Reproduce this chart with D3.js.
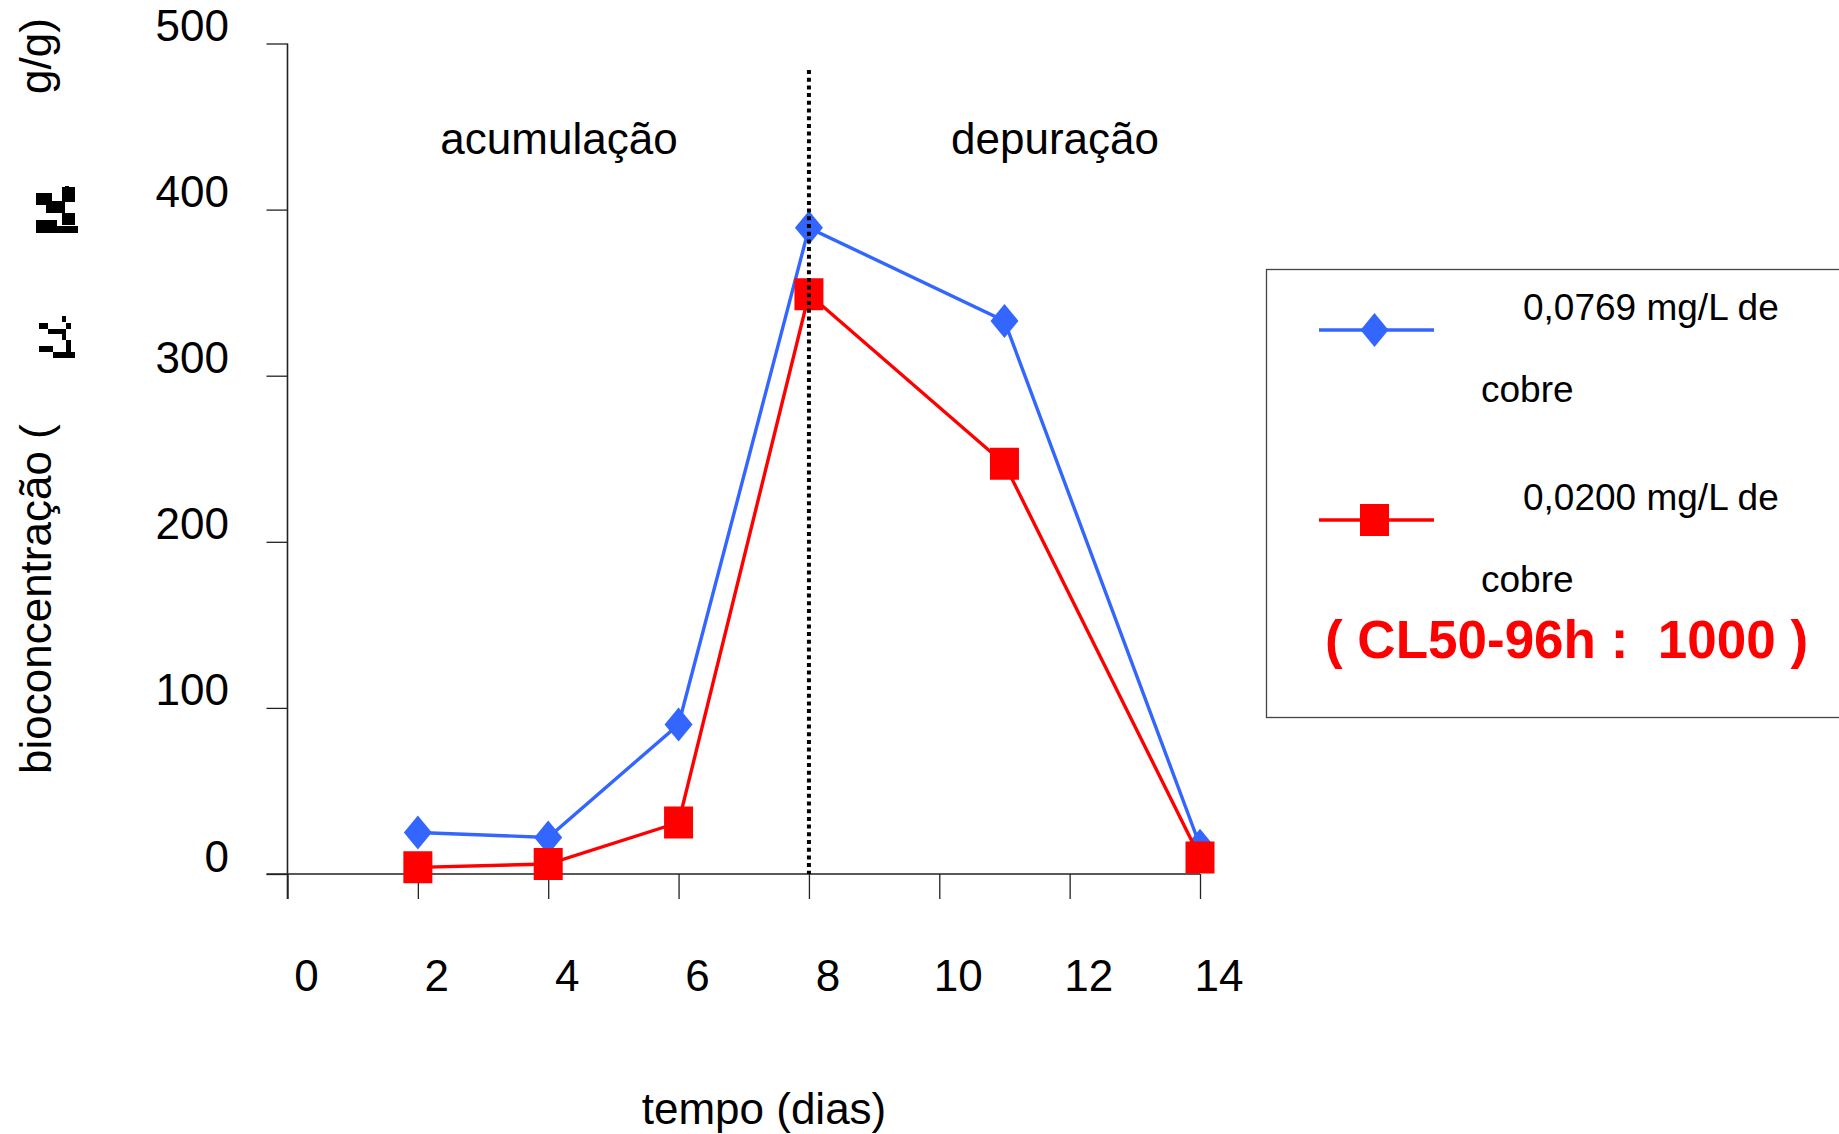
<!DOCTYPE html>
<html>
<head>
<meta charset="utf-8">
<script src="https://cdn.jsdelivr.net/npm/d3@7"></script>
<style>
  html, body { margin: 0; padding: 0; background: #fff; }
  svg { display: block; }
  text { font-family: "Liberation Sans", Arial, sans-serif; fill: #000; }
</style>
</head>
<body>
<svg id="chart" width="1839" height="1134"></svg>
<script>
// Copper bioconcentration over time: accumulation (days 0-8) then depuration
const days = [2, 4, 6, 8, 11, 14];
const highDose = [25, 22, 90, 389, 333, 17];   // 0,0769 mg/L de cobre
const lowDose  = [4, 6, 31, 349, 247, 10];     // 0,0200 mg/L de cobre
const xTicks = [0, 2, 4, 6, 8, 10, 12, 14];
const yTicks = [0, 100, 200, 300, 400, 500];
const seriesNames = ["0,0769 mg/L de", "0,0200 mg/L de"];
const seriesSuffix = "cobre";
const phaseLabels = ["acumulação", "depuração"];
const phaseBoundary = 8;
const noteText = "( CL50-96h :  1000 )";

const BLUE = "#3366ff", RED = "#ff0000";
const svg = d3.select("#chart");

const x = d3.scaleLinear().domain([0, 14]).range([287.5, 1200]);
const y = d3.scaleLinear().domain([0, 500]).range([874, 43.5]);

// axes
const yAxis = svg.append("g").attr("transform", `translate(${x(0)},0)`)
  .call(d3.axisLeft(y).tickValues(yTicks).tickSize(21).tickFormat(""));
const xAxis = svg.append("g").attr("transform", `translate(0,${y(0)})`)
  .call(d3.axisBottom(x).tickValues(xTicks).tickSize(25).tickFormat(""));
[yAxis, xAxis].forEach(g => {
  g.select(".domain").remove();
  g.selectAll(".tick line").attr("stroke", "#222").attr("stroke-width", 1.3);
});
// axis lines
svg.append("line").attr("x1", x(0)).attr("x2", x(0)).attr("y1", y(500)).attr("y2", y(0) + 25)
  .attr("stroke", "#222").attr("stroke-width", 1.6);
svg.append("line").attr("x1", x(0) - 21).attr("x2", x(14)).attr("y1", y(0)).attr("y2", y(0))
  .attr("stroke", "#222").attr("stroke-width", 1.6);

// tick labels
svg.append("g").selectAll("text").data(yTicks).join("text")
  .attr("x", 229).attr("y", d => y(d) - 18)
  .attr("text-anchor", "end").attr("dominant-baseline", "central")
  .attr("font-size", 44).text(d => d);
svg.append("g").selectAll("text").data(xTicks).join("text")
  .attr("x", d => x(d) + 19).attr("y", 975)
  .attr("text-anchor", "middle").attr("dominant-baseline", "central")
  .attr("font-size", 44).text(d => d);

// axis titles
svg.append("text").attr("x", 764).attr("y", 1108)
  .attr("text-anchor", "middle").attr("dominant-baseline", "central")
  .attr("font-size", 44).text("tempo (dias)");
const yTitle = svg.append("g").attr("transform", "translate(35,0) rotate(-90)");
yTitle.append("text").attr("x", -774).attr("y", 0)
  .attr("dominant-baseline", "central").attr("font-size", 44).text("bioconcentração (");
yTitle.append("text").attr("x", -94).attr("y", 0)
  .attr("dominant-baseline", "central").attr("font-size", 44).text("g/g)");

// the µ sign is shown by the font as two broken bitmap glyphs
function brokenGlyph(g, cells) {
  g.selectAll("rect").data(cells).join("rect")
    .attr("x", d => d[0]).attr("y", d => d[1]).attr("width", d => d[2]).attr("height", d => d[3])
    .attr("fill", "#000");
}
brokenGlyph(svg.append("g").attr("transform", "translate(36,186)"), [
  [0, 7, 16, 12], [10, 15, 19, 12], [26, 1, 13, 15], [29, 0, 4, 4],
  [26, 27, 13, 12], [0, 34, 21, 13], [17, 40, 25, 7]
]);
brokenGlyph(svg.append("g").attr("transform", "translate(39,316)"), [
  [23, 0, 4, 6], [0, 7, 9, 6], [27, 7, 5, 6], [9, 13, 18, 5],
  [23, 18, 4, 6], [27, 24, 5, 12], [0, 30, 14, 6], [14, 36, 22, 6]
]);

// phase labels
svg.append("text").attr("x", 559).attr("y", 138).attr("text-anchor", "middle")
  .attr("dominant-baseline", "central").attr("font-size", 44).text(phaseLabels[0]);
svg.append("text").attr("x", 1055).attr("y", 138).attr("text-anchor", "middle")
  .attr("dominant-baseline", "central").attr("font-size", 44).text(phaseLabels[1]);

// series
const diamond = "M0,-17L14,0L0,17L-14,0Z";
const square = "M-14.5,-16H14.5V16H-14.5Z";
const line = d3.line().x(d => x(d[0])).y(d => y(d[1]));
function drawSeries(vals, color, shape) {
  const pts = days.map((d, i) => [d, vals[i]]);
  svg.append("path").attr("d", line(pts)).attr("fill", "none")
    .attr("stroke", color).attr("stroke-width", 3.4);
  svg.append("g").selectAll("path").data(pts).join("path")
    .attr("transform", d => `translate(${x(d[0])},${y(d[1])})`)
    .attr("d", shape).attr("fill", color);
}
drawSeries(highDose, BLUE, diamond);
drawSeries(lowDose, RED, square);

// boundary between accumulation and depuration
svg.append("line").attr("x1", x(phaseBoundary)).attr("x2", x(phaseBoundary))
  .attr("y1", 70).attr("y2", y(0))
  .attr("stroke", "#000").attr("stroke-width", 4).attr("stroke-dasharray", "4 3.7");

// legend
const lg = svg.append("g");
lg.append("rect").attr("x", 1266.5).attr("y", 269.5).attr("width", 600).attr("height", 448)
  .attr("fill", "#fff").attr("stroke", "#444").attr("stroke-width", 1.3);
[[BLUE, diamond, 330], [RED, square, 520]].forEach(([c, s, ly], i) => {
  lg.append("line").attr("x1", 1319).attr("x2", 1434).attr("y1", ly).attr("y2", ly)
    .attr("stroke", c).attr("stroke-width", 3.4);
  lg.append("path").attr("transform", `translate(1374.5,${ly})`).attr("d", s).attr("fill", c);
  lg.append("text").attr("x", 1523).attr("y", ly - 23).attr("dominant-baseline", "central")
    .attr("font-size", 37).text(seriesNames[i]);
  lg.append("text").attr("x", 1481).attr("y", ly + 59).attr("dominant-baseline", "central")
    .attr("font-size", 37).text(seriesSuffix);
});
lg.append("text").attr("x", 1325).attr("y", 639).attr("dominant-baseline", "central")
  .attr("font-size", 53).attr("font-weight", "bold").style("fill", RED)
  .style("white-space", "pre").text(noteText);
</script>
</body>
</html>
